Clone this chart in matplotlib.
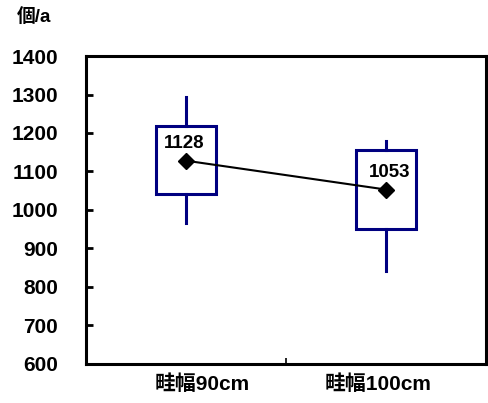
import matplotlib.pyplot as plt

plt.rcParams['font.family'] = ['Liberation Sans', 'Noto Sans CJK JP', 'DejaVu Sans']

# data
categories = ['畦幅90cm', '畦幅100cm']
whisker_low = [966, 842]
box_low = [1042, 951]
box_high = [1218, 1156]
whisker_high = [1294, 1179]
means = [1128, 1053]

positions = [0.5, 1.5]
box_w = 0.3
navy = '#000080'

fig = plt.figure(figsize=(4.89, 4.03), dpi=100)
ax = fig.add_axes([0.176, 0.097, 0.818, 0.764])

for x, wl, bl, bh, wh in zip(positions, whisker_low, box_low, box_high, whisker_high):
    ax.add_patch(plt.Rectangle((x - box_w / 2, bl), box_w, bh - bl,
                               fill=False, edgecolor=navy, linewidth=2.2, zorder=2))
    ax.plot([x, x], [wl, bl], color=navy, linewidth=2.2, zorder=2)
    ax.plot([x, x], [bh, wh], color=navy, linewidth=2.2, zorder=2)

ax.plot(positions, means, color='black', linewidth=1.5, marker='D',
        markersize=8, zorder=3)
for x, m, dx in zip(positions, means, [-0.01, 0.02]):
    ax.text(x + dx, m + 22, str(m), ha='center', va='bottom',
            fontsize=13.5, fontweight='bold', zorder=4)

ax.set_xlim(0, 2)
ax.set_ylim(600, 1400)
ax.set_yticks(range(600, 1401, 100))
ax.set_xticks([1], minor=False)
ax.set_xticklabels([''])
ax.tick_params(axis='x', direction='in', length=4, width=1.2)
ax.tick_params(axis='y', direction='in', length=5, width=2, labelsize=15, pad=20)
for lab in ax.get_yticklabels():
    lab.set_fontweight('bold')

for x, c in zip([0.58, 1.46], categories):
    ax.text(x, 572, c, ha='center', va='top', fontsize=15, fontweight='bold',
            transform=ax.transData, clip_on=False)

for s in ax.spines.values():
    s.set_linewidth(2.2)

fig.text(0.035, 0.958, '個/a', ha='left', va='center', fontsize=13.5, fontweight='bold')

fig.savefig('out.png', dpi=100)
